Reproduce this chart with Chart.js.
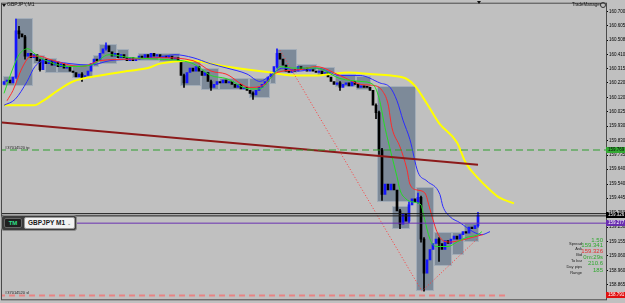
<!DOCTYPE html>
<html lang="en">
<head>
<meta charset="UTF-8" />
<title>GBPJPY,M1</title>
<script src="https://cdn.jsdelivr.net/npm/chart.js"></script>
<style>
  html, body { margin: 0; padding: 0; background: #c0c0c0; }
  #wrap { position: relative; width: 625px; height: 303px; overflow: hidden; background: #c0c0c0;
          font-family: "Liberation Sans", Arial, sans-serif; }
  #wrap canvas { position: absolute; left: 0; top: 0; }
  .lbl { position: absolute; white-space: nowrap; line-height: 1; color: #111; }
  .tri { position: absolute; width: 0; height: 0; border-left: 2px solid transparent;
         border-right: 2px solid transparent; border-top: 3px solid #111; }
  .ring { position: absolute; width: 4px; height: 4px; border: 1px solid #333; border-radius: 50%; }
  .tag { position: absolute; left: 606px; width: 19px; height: 6px; font-size: 4.5px; line-height: 6px;
         padding-left: 2px; box-sizing: border-box; white-space: nowrap; }
  .lvl { position: absolute; left: 5px; font-size: 4px; color: #222; white-space: nowrap; }

  /* panel TradeManager */
  #tm { position: absolute; left: 1px; top: 215px; width: 76px; height: 16px; background: #3c3c3c;
        border: 1px solid #8a8a8a; border-radius: 3px; box-sizing: border-box; }
  #tmBadge { position: absolute; left: 2px; top: 2px; width: 18px; height: 10px; background: #202020;
             border: 1px solid #666; box-sizing: border-box; border-radius: 2px; color: #2fe08a;
             font-weight: bold; font-size: 6px; line-height: 8px; text-align: center; }
  #tmField { position: absolute; left: 22px; top: 1px; width: 51px; height: 12px; background: #f2f2f2;
             border: 1px solid #999; box-sizing: border-box; border-radius: 2px; color: #1a1a1a;
             font-weight: bold; font-size: 6.5px; line-height: 10px; padding-left: 3px; }
  #tmField span { position: absolute; right: 3px; top: 0; font-weight: normal; color: #555; font-size: 5px; }

  .info-k { position: absolute; font-size: 4px; color: #222; text-align: right; width: 30px; left: 552px; }
  .info-v { position: absolute; font-size: 6px; text-align: right; width: 30px; left: 573px; }
</style>
</head>
<body>
<div id="wrap">
  <canvas id="chart" width="625" height="303"></canvas>

  <div class="tri" style="left:2px;top:4px"></div>
  <div class="lbl" style="left:7px;top:2px;font-size:5px">GBPJPY,M1</div>
  <div class="lbl" style="left:572px;top:3px;font-size:4.5px">TradeManager</div>
  <div class="ring" style="left:600px;top:2px"></div>
  <div class="tri" style="left:477px;top:1px"></div>

  <div id="tm">
    <div id="tmBadge">TM</div>
    <div id="tmField">GBPJPY M1<span>&#8964;</span></div>
  </div>

  <div class="info-k" style="top:241px">Spread</div>
  <div class="info-k" style="top:246px">Ask</div>
  <div class="info-k" style="top:252px">Bid</div>
  <div class="info-k" style="top:258px">To bar</div>
  <div class="info-k" style="top:264px">Day pips</div>
  <div class="info-k" style="top:270px">Range</div>
  <div class="info-v" style="top:237px;color:#2ea82e">1.50</div>
  <div class="info-v" style="top:242px;color:#2ea82e">159.341</div>
  <div class="info-v" style="top:248px;color:#e03030">159.326</div>
  <div class="info-v" style="top:254px;color:#2ea82e">0m:29s</div>
  <div class="info-v" style="top:260px;color:#2ea82e">210.6</div>
  <div class="info-v" style="top:267px;color:#2ea82e">185</div>
</div>

<script>
  // Echelle de prix (axe droit)
  const priceTicks = [160.700, 160.605, 160.508, 160.410, 160.315, 160.220, 160.120, 160.025, 159.930, 159.830,
    159.735, 159.640, 159.540, 159.445, 159.350, 159.250, 159.155, 159.060, 158.960, 158.865];

  // Bougies M1 : cloture de chaque barre (ouverture = cloture precedente)
  const firstOpen = 160.21;
  const closes = [
    160.23, 160.24, 160.22, 160.26, 160.57, 160.55, 160.53, 160.40, 160.42, 160.39,
    160.41, 160.37, 160.31, 160.38, 160.35, 160.37, 160.34, 160.36, 160.33, 160.35,
    160.32, 160.33, 160.30, 160.29, 160.26, 160.28, 160.25, 160.27, 160.30, 160.35,
    160.38, 160.37, 160.42, 160.45, 160.47, 160.43, 160.40, 160.42, 160.39, 160.41,
    160.39, 160.37, 160.39, 160.37, 160.38, 160.40, 160.39, 160.41, 160.39, 160.42,
    160.40, 160.41, 160.39, 160.40, 160.39, 160.40, 160.38, 160.39, 160.37, 160.27,
    160.22, 160.29, 160.32, 160.30, 160.33, 160.30, 160.27, 160.29, 160.23, 160.19,
    160.21, 160.23, 160.22, 160.24, 160.22, 160.23, 160.21, 160.19, 160.21, 160.18,
    160.19, 160.17, 160.15, 160.14, 160.17, 160.19, 160.21, 160.23, 160.26, 160.29,
    160.33, 160.42, 160.38, 160.34, 160.30, 160.29, 160.31, 160.30, 160.33, 160.31,
    160.32, 160.30, 160.31, 160.30, 160.29, 160.30, 160.28, 160.29, 160.26, 160.23,
    160.21, 160.22, 160.19, 160.21, 160.22, 160.20, 160.23, 160.21, 160.19, 160.20,
    160.19, 160.19, 160.17, 160.07, 160.02, 159.77, 159.47, 159.54, 159.50, 159.54,
    159.50, 159.36, 159.27, 159.34, 159.29, 159.40, 159.44, 159.42, 159.45, 159.17,
    158.94, 159.03, 159.10, 159.14, 159.17, 159.14, 159.10, 159.16, 159.14, 159.17,
    159.19, 159.17, 159.20, 159.22, 159.21, 159.25, 159.24, 159.26, 159.33
  ];

  // Meches visibles : [barre, bas, haut]
  const wicks = [
    [4, 160.25, 160.65], [5, 160.52, 160.60], [7, 160.38, 160.54], [12, 160.30, 160.38],
    [26, 160.23, 160.29], [34, 160.44, 160.49], [60, 160.19, 160.28], [69, 160.17, 160.24],
    [83, 160.11, 160.16], [91, 160.32, 160.45], [112, 160.17, 160.23], [124, 159.98, 160.08],
    [125, 159.74, 160.03], [126, 159.43, 159.78], [132, 159.24, 159.37], [135, 159.28, 159.42],
    [138, 159.41, 159.48], [139, 159.15, 159.46], [140, 158.82, 159.18], [145, 159.02, 159.18],
    [158, 159.25, 159.35]
  ];

  // Rectangles M5 : [premiere barre, derniere barre, bas, haut]
  const boxes = [
    [0, 3, 160.20, 160.27], [4, 9, 160.20, 160.66], [10, 13, 160.35, 160.41], [14, 17, 160.29, 160.39],
    [18, 22, 160.29, 160.35], [23, 29, 160.25, 160.35], [30, 31, 160.33, 160.41], [32, 37, 160.35, 160.48],
    [38, 41, 160.37, 160.45], [45, 51, 160.37, 160.42], [52, 58, 160.36, 160.42], [59, 65, 160.20, 160.37],
    [66, 71, 160.17, 160.32], [72, 81, 160.17, 160.25], [82, 88, 160.12, 160.25], [89, 90, 160.21, 160.30],
    [91, 97, 160.29, 160.45], [98, 104, 160.30, 160.35], [105, 110, 160.27, 160.33], [111, 117, 160.19, 160.28],
    [118, 122, 160.17, 160.27], [125, 137, 159.42, 160.20], [130, 135, 159.24, 159.39], [138, 143, 158.82, 159.52],
    [144, 149, 158.99, 159.22], [150, 153, 159.06, 159.22], [154, 158, 159.15, 159.28]
  ];

  // Moyennes mobiles : [barre, prix]
  const maGreen = [[0, 160.15], [3, 160.32], [5, 160.41], [8, 160.45], [10, 160.42], [13, 160.38], [22, 160.33],
    [29, 160.34], [35, 160.41], [42, 160.39], [52, 160.38], [63, 160.35], [69, 160.27], [74, 160.25],
    [82, 160.18], [85, 160.18], [90, 160.28], [92, 160.33], [96, 160.32], [104, 160.32], [112, 160.25],
    [119, 160.23], [123, 160.21], [125, 160.12], [127, 159.92], [129, 159.75], [131, 159.59], [132, 159.50],
    [134, 159.44], [136, 159.42], [139, 159.40], [140, 159.32], [142, 159.17], [144, 159.12], [148, 159.12],
    [151, 159.15], [154, 159.18], [158, 159.20], [159.3, 159.22]];
  const maRed = [[1, 160.10], [3, 160.17], [6, 160.32], [9, 160.40], [12, 160.40], [15, 160.38], [26, 160.33],
    [32, 160.37], [42, 160.38], [52, 160.39], [63, 160.37], [69, 160.30], [74, 160.28], [82, 160.19],
    [86, 160.20], [91, 160.29], [99, 160.31], [104, 160.33], [112, 160.27], [119, 160.21], [124, 160.20],
    [126, 160.17], [128, 160.08], [129.3, 159.92], [132, 159.79], [134.3, 159.64], [135.3, 159.54],
    [137.7, 159.50], [140.3, 159.48], [142, 159.37], [143, 159.30], [144.3, 159.22], [146.3, 159.16],
    [148.7, 159.15], [152, 159.16], [157.7, 159.19], [159.7, 159.20]];
  const maBlue = [[0, 160.07], [3.7, 160.11], [7.7, 160.23], [10.3, 160.33], [13.7, 160.37], [22, 160.35],
    [28.7, 160.34], [35.3, 160.37], [42, 160.38], [51, 160.39], [57, 160.41], [63, 160.39], [68.7, 160.35],
    [74.3, 160.32], [81, 160.28], [85.3, 160.23], [88.7, 160.27], [93, 160.32], [98.7, 160.30], [104.3, 160.32],
    [112, 160.27], [118.7, 160.27], [125.3, 160.22], [128.7, 160.19], [131, 160.10], [133, 159.97],
    [135.3, 159.84], [138, 159.62], [141, 159.56], [145.3, 159.47], [146.3, 159.39], [148.7, 159.32],
    [152, 159.28], [156.3, 159.22], [159.3, 159.20], [162, 159.22]];
  const maYellow = [[0, 160.07], [10, 160.07], [13, 160.10], [18, 160.17], [23, 160.23], [32, 160.27],
    [41, 160.30], [48, 160.32], [52, 160.35], [63, 160.37], [69, 160.35], [74, 160.33], [81, 160.31],
    [89, 160.29], [96, 160.27], [103, 160.27], [109, 160.28], [115, 160.29], [122, 160.28], [129, 160.27],
    [134, 160.25], [137, 160.20], [141, 160.08], [145, 159.95], [151, 159.82], [154, 159.68], [158, 159.58],
    [162, 159.50], [165, 159.45], [170, 159.41]];

  // Objets traces
  const trendLine = [[-1.33, 159.955], [158, 159.67]];
  const dottedPath = [[92, 160.44], [139.3, 158.82], [157.7, 159.17]];
  const tpLevel = 159.769;
  const slLevel = 158.791;
  const slEnd = 167.7;
  const askPrice = 159.341;
  const bidPrice = 159.326;
  const purpleLevel = 159.277;

  const xMin = -0.667, xMax = 200.667;
  const pts = arr => arr.map(p => ({ x: p[0], y: p[1] }));
  const hline = (v, end) => [{ x: xMin - 1, y: v }, { x: end, y: v }];

  const opens = closes.map((c, i) => i === 0 ? firstOpen : closes[i - 1]);
  const candleColor = i => closes[i] > opens[i] ? '#1515ff' : '#000000';

  // Rectangles M5 derriere les bougies
  const boxPlugin = {
    id: 'm5boxes',
    beforeDatasetsDraw(chart) {
      const { ctx, chartArea, scales: { x, y } } = chart;
      ctx.save();
      ctx.beginPath();
      ctx.rect(chartArea.left, chartArea.top, chartArea.width, chartArea.height);
      ctx.clip();
      ctx.fillStyle = '#7d8a99';
      ctx.strokeStyle = '#a3adb8';
      ctx.lineWidth = 1;
      boxes.forEach(b => {
        const x0 = Math.round(x.getPixelForValue(b[0] - 0.5));
        const x1 = Math.round(x.getPixelForValue(b[1] + 0.5));
        const y0 = Math.round(y.getPixelForValue(b[3]));
        const y1 = Math.round(y.getPixelForValue(b[2]));
        ctx.fillRect(x0, y0, x1 - x0, y1 - y0);
        ctx.strokeRect(x0 + 0.5, y0 + 0.5, x1 - x0 - 1, y1 - y0 - 1);
      });
      ctx.restore();
    }
  };

  // Cadre de la fenetre
  const framePlugin = {
    id: 'frame',
    afterDraw(chart) {
      const { ctx, chartArea } = chart;
      ctx.save();
      ctx.strokeStyle = '#4a4a4a';
      ctx.lineWidth = 1;
      ctx.strokeRect(chartArea.left - 0.5, chartArea.top - 0.5, chartArea.width + 1, chartArea.height + 1);
      ctx.restore();
    }
  };

  const lineDs = (data, color, width, order, extra) => Object.assign({
    type: 'line', data, borderColor: color, borderWidth: width, pointRadius: 0,
    fill: false, order, cubicInterpolationMode: 'monotone'
  }, extra || {});

  const chart = new Chart(document.getElementById('chart'), {
    type: 'bar',
    data: {
      datasets: [
        {
          label: 'wicks', grouped: false, order: 20, barThickness: 1,
          data: wicks.map(w => ({ x: w[0], y: [w[1], w[2]] })),
          backgroundColor: wicks.map(w => candleColor(w[0]))
        },
        {
          label: 'bodies', grouped: false, order: 19, barThickness: 2, minBarLength: 1,
          data: closes.map((c, i) => ({ x: i, y: [opens[i], c] })),
          backgroundColor: closes.map((c, i) => candleColor(i))
        },
        lineDs(pts(maYellow), '#ffff00', 2, 15),
        lineDs(pts(maBlue), '#2b2bff', 1, 14),
        lineDs(pts(maRed), '#ff2a2a', 1, 13),
        lineDs(pts(maGreen), '#22dd22', 1, 12),
        lineDs(pts(trendLine), '#8c1a1a', 2, 8, { cubicInterpolationMode: 'default' }),
        lineDs(pts(dottedPath), '#ff3b3b', 1, 7, { borderDash: [1, 2], cubicInterpolationMode: 'default' }),
        lineDs(hline(tpLevel, xMax + 1), '#2f9e2f', 1, 6, { borderDash: [7, 4] }),
        lineDs(hline(slLevel, slEnd), '#e88484', 2, 6, { borderDash: [6, 4] }),
        lineDs(hline(askPrice, xMax + 1), '#1a1a1a', 1, 5),
        lineDs(hline(bidPrice, xMax + 1), '#1a1a1a', 1, 5),
        lineDs(hline(purpleLevel, xMax + 1), '#6a2fb0', 1, 5)
      ]
    },
    options: {
      responsive: false,
      animation: false,
      devicePixelRatio: 1,
      layout: { padding: { left: 2, top: 2, bottom: 2, right: 0 } },
      plugins: { legend: { display: false }, tooltip: { enabled: false } },
      scales: {
        x: { type: 'linear', min: xMin, max: xMax, display: false, offset: false },
        y: {
          position: 'right',
          min: 158.765,
          max: 160.753,
          afterBuildTicks: s => { s.ticks = priceTicks.map(v => ({ value: v })); },
          afterFit: s => { s.width = 19; },
          ticks: {
            autoSkip: false,
            padding: 1,
            color: '#000',
            font: { size: 4.5, family: 'Liberation Sans' },
            callback: v => Number(v).toFixed(3)
          },
          grid: { drawOnChartArea: false, tickLength: 2, color: '#000' },
          border: { color: '#4a4a4a' }
        }
      }
    },
    plugins: [boxPlugin, framePlugin]
  });

  // Etiquettes de prix sur l'axe et libelles des niveaux
  const wrap = document.getElementById('wrap');
  const ys = chart.scales.y;
  function tag(text, value, bg, fg) {
    const d = document.createElement('div');
    d.className = 'tag';
    d.textContent = text;
    d.style.top = (Math.round(ys.getPixelForValue(value)) - 3) + 'px';
    d.style.background = bg;
    d.style.color = fg;
    wrap.appendChild(d);
  }
  function levelLabel(text, value) {
    const d = document.createElement('div');
    d.className = 'lvl';
    d.textContent = text;
    d.style.top = (Math.round(ys.getPixelForValue(value)) - 5) + 'px';
    wrap.appendChild(d);
  }
  tag(tpLevel.toFixed(3), tpLevel, '#33aa33', '#000');
  tag(bidPrice.toFixed(3), (askPrice + bidPrice) / 2, '#000', '#fff');
  tag(purpleLevel.toFixed(3), purpleLevel, '#6a2fb0', '#fff');
  tag(slLevel.toFixed(3), slLevel, '#e01010', '#fff');
  levelLabel('#37014520 tp', tpLevel);
  levelLabel('#37014520 sl', slLevel);
</script>
</body>
</html>
